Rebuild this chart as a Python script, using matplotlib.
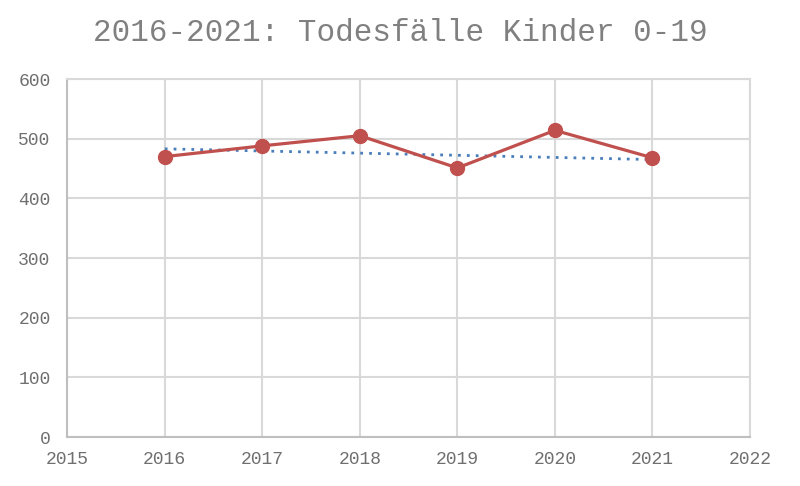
import matplotlib
matplotlib.use("Agg")
import matplotlib.pyplot as plt

years = [2016, 2017, 2018, 2019, 2020, 2021]
deaths = [470, 488, 505, 451, 514, 468]
trend_years = [2016, 2021]
trend_values = [483, 465]
x_ticks = [2015, 2016, 2017, 2018, 2019, 2020, 2021, 2022]
y_ticks = [0, 100, 200, 300, 400, 500, 600]
title = "2016-2021: Todesfälle Kinder 0-19"

plt.rcParams['font.family'] = ['Liberation Mono', 'DejaVu Sans Mono']

fig = plt.figure(figsize=(8, 4.86), dpi=100)
ax = fig.add_axes([0.084, 0.1008, 0.8535, 0.7366])

grid_c = '#d9d9d9'
ax.set_xlim(2015, 2022)
ax.set_ylim(0, 600)
ax.set_xticks(x_ticks)
ax.set_yticks(y_ticks)
ax.grid(True, color=grid_c, linewidth=1.5)
ax.set_axisbelow(True)
for s in ax.spines.values():
    s.set_color(grid_c)
    s.set_linewidth(1.5)
ax.spines['left'].set_color('#bfbfbf')
ax.spines['bottom'].set_color('#bfbfbf')
ax.tick_params(length=0, colors='#6f6f6f', labelsize=13)
ax.tick_params(axis='y', pad=12)
ax.tick_params(axis='x', pad=10)

ax.plot(years, deaths, color='#c0504d', linewidth=2.3, marker='o',
        markersize=10, zorder=3, clip_on=False)
ax.plot(trend_years, trend_values, color='#4a7ebb', linewidth=2,
        linestyle=(0, (1, 2.2)), zorder=2)

fig.text(0.5, 0.933, title, ha='center', va='center', fontsize=22.3,
         color='#808080')

fig.savefig('out.png', dpi=100, facecolor='white')
